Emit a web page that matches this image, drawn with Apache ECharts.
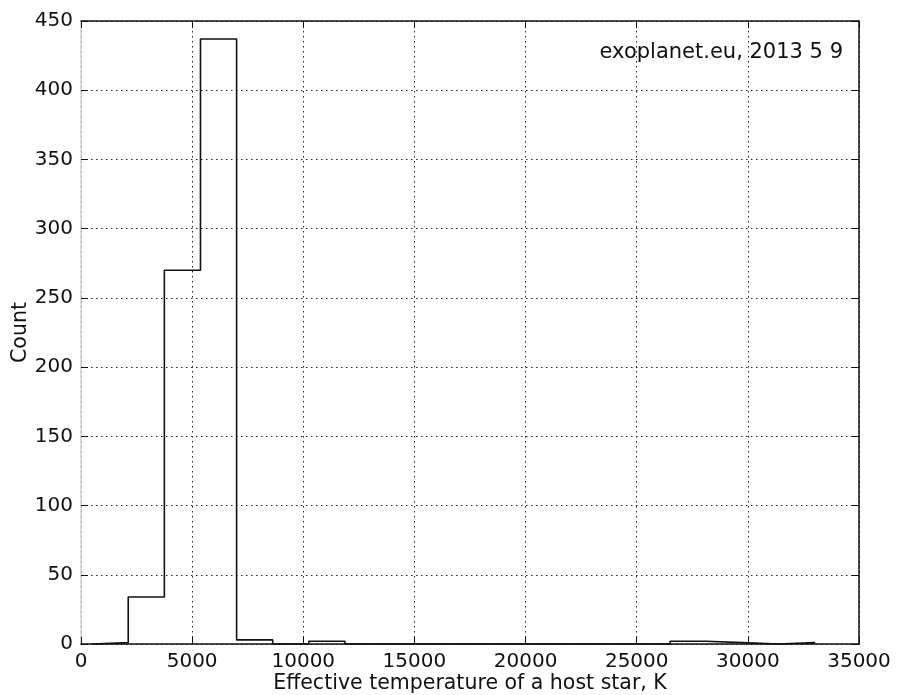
<!DOCTYPE html>
<html>
<head>
<meta charset="utf-8">
<script src="https://cdn.jsdelivr.net/npm/echarts@6/dist/echarts.min.js"></script>
<style>
  html, body { margin: 0; padding: 0; background: #fff; }
  #chart { width: 923px; height: 695px; }
</style>
</head>
<body>
<div id="chart"></div>
<script>
// Histogram of host-star effective temperatures (20 equal bins)
const binEdges = [500, 2125, 3750, 5375, 7000, 8625, 10250, 11875, 13500, 15125, 16750,
                  18375, 20000, 21625, 23250, 24875, 26500, 28125, 29750, 31375, 33000];
const binCounts = [1, 34, 270, 437, 3, 0, 2, 0, 0, 0, 0, 0, 0, 0, 0, 0, 2, 1, 0, 1];

const xTicks = [0, 5000, 10000, 15000, 20000, 25000, 30000, 35000];
const yTicks = [0, 50, 100, 150, 200, 250, 300, 350, 400, 450];

const annotation = 'exoplanet.eu, 2013 5 9';
const xTitle = 'Effective temperature of a host star, K';
const yTitle = 'Count';

// Outline of a step histogram: up the left edge, across each bin, down at the end
const stepPath = [[binEdges[0], 0]];
binCounts.forEach((c, i) => {
  stepPath.push([binEdges[i], c]);
  stepPath.push([binEdges[i + 1], c]);
});
stepPath.push([binEdges[binEdges.length - 1], 0]);

const FONT = 'DejaVu Sans';
const labelStyle = { color: '#111', fontFamily: FONT, fontSize: 20, formatter: v => String(v) };
const gridLine = { show: true, lineStyle: { color: '#222', width: 1, type: [1.5, 3.5] } };

const xBase = {
  type: 'value',
  min: xTicks[0],
  max: xTicks[xTicks.length - 1],
  interval: xTicks[1] - xTicks[0],
  splitLine: { show: false },
  axisTick: { show: true, inside: true, length: 7, lineStyle: { color: '#111', width: 1 } },
  axisLine: { show: true, onZero: false, lineStyle: { color: '#111', width: 1.5 } }
};
const yBase = {
  type: 'value',
  min: yTicks[0],
  max: yTicks[yTicks.length - 1],
  interval: yTicks[1] - yTicks[0],
  splitLine: { show: false },
  axisTick: { show: true, inside: true, length: 7, lineStyle: { color: '#111', width: 1 } },
  axisLine: { show: true, onZero: false, lineStyle: { color: '#111', width: 1.5 } }
};

const chart = echarts.init(document.getElementById('chart'), null, { renderer: 'canvas' });
chart.setOption({
  animation: false,
  backgroundColor: '#fff',
  grid: { left: 81, right: 64, top: 21, bottom: 51, containLabel: false, outerBoundsMode: 'none' },
  xAxis: [
    Object.assign({}, xBase, {
      position: 'bottom',
      splitLine: gridLine,
      axisLabel: Object.assign({ margin: 8 }, labelStyle),
      name: xTitle,
      nameLocation: 'middle',
      nameGap: 29,
      nameMoveOverlap: false,
      nameTextStyle: { color: '#111', fontFamily: FONT, fontSize: 20.5 }
    }),
    Object.assign({}, xBase, { position: 'top', axisLabel: { show: false } })
  ],
  yAxis: [
    Object.assign({}, yBase, {
      position: 'left',
      splitLine: gridLine,
      axisLine: { show: true, onZero: false, lineStyle: { color: '#d0d0d0', width: 1.5 } },
      axisLabel: Object.assign({ margin: 8 }, labelStyle),
      name: yTitle,
      nameLocation: 'middle',
      nameGap: 50,
      nameMoveOverlap: false,
      nameRotate: 90,
      nameTextStyle: { color: '#111', fontFamily: FONT, fontSize: 20.5 }
    }),
    Object.assign({}, yBase, { position: 'right', axisLabel: { show: false } })
  ],
  graphic: [{
    type: 'text',
    x: 843,
    y: 53,
    style: {
      text: annotation,
      fill: '#111',
      font: '21px "DejaVu Sans"',
      textAlign: 'right',
      textVerticalAlign: 'middle'
    }
  }],
  series: [{
    type: 'line',
    xAxisIndex: 0,
    yAxisIndex: 0,
    data: stepPath,
    showSymbol: false,
    symbol: 'none',
    clip: false,
    lineStyle: { color: '#111', width: 1.6 },
    z: 5
  }]
});
</script>
</body>
</html>
